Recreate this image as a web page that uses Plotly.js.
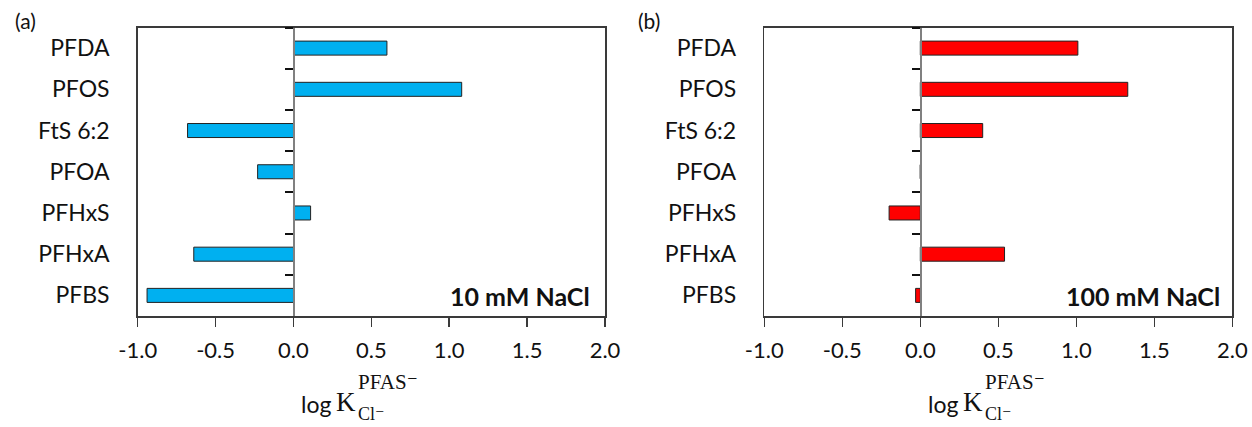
<!DOCTYPE html>
<html>
<head>
<meta charset="utf-8">
<script src="https://cdn.plot.ly/plotly-3.0.1.min.js"></script>
<style>html,body{margin:0;padding:0;background:#fff;}#chart{width:1252px;height:427px;}</style>
</head>
<body>
<div id="chart"></div>
<script>
// ---- data ----
const categories = ["PFDA", "PFOS", "FtS 6:2", "PFOA", "PFHxS", "PFHxA", "PFBS"];
const values10mM = [0.60, 1.08, -0.68, -0.23, 0.11, -0.64, -0.94];
const values100mM = [1.01, 1.33, 0.40, 0.00, -0.20, 0.54, -0.03];
const xTickVals = [-1.0, -0.5, 0.0, 0.5, 1.0, 1.5, 2.0];
const xTickText = ["-1.0", "-0.5", "0.0", "0.5", "1.0", "1.5", "2.0"];
const panelLabels = ["(a)", "(b)"];
const conditionLabels = ["10 mM NaCl", "100 mM NaCl"];

// ---- layout helpers ----
const W = 1252, H = 427;
const px = v => v / W;
const py = v => 1 - v / H;
const xRange = [-1, 2];
const domA = [px(137.7), px(605)];
const domB = [px(764.3), px(1232.3)];
const yDom = [py(316), py(27.5)];
const zeroPos = d => d[0] + (d[1] - d[0]) * (0 - xRange[0]) / (xRange[1] - xRange[0]);

const FONT = "Lato, 'Open Sans', sans-serif";
const SERIF = "'Liberation Serif', 'DejaVu Serif', serif";
const AX = "#3a3a3a";

const bar = (vals, color, xa, ya) => ({
  type: "bar", orientation: "h", y: categories, x: vals,
  xaxis: xa, yaxis: ya, width: 0.34,
  marker: {color: color, line: {color: "#222", width: 1}},
  hoverinfo: "x+y", showlegend: false
});
// invisible copies so the zero-position tick axes get drawn
const ghost = (vals, xa, ya) => ({
  type: "bar", orientation: "h", y: categories, x: vals, xaxis: xa, yaxis: ya,
  width: 0.34, marker: {color: "rgba(0,0,0,0)", line: {width: 0}},
  hoverinfo: "skip", showlegend: false
});

const data = [
  ghost(values10mM, "x", "y3"),
  ghost(values100mM, "x2", "y4"),
  bar(values10mM, "#00B0F0", "x", "y"),
  bar(values100mM, "#FF0000", "x2", "y2")
];

const xaxisBase = dom => ({
  domain: dom, range: xRange, tickmode: "array", tickvals: xTickVals, ticktext: xTickText,
  ticks: "outside", ticklen: 9, tickwidth: 1.5, tickcolor: AX,
  showline: true, linecolor: AX, linewidth: 1.5, mirror: true,
  showgrid: false, zeroline: false, fixedrange: true,
  tickfont: {family: FONT, size: 22, color: "#111"}, ticklabelstandoff: 5
});
const yaxisBase = (anchor) => ({
  domain: yDom, anchor: anchor, type: "category", categoryarray: categories, categoryorder: "array",
  autorange: "reversed", ticks: "", showline: true, linecolor: AX, linewidth: 1.5, mirror: true,
  showgrid: false, zeroline: false, fixedrange: true,
  tickfont: {family: FONT, size: 23, color: "#111"}, ticklabelstandoff: 22
});
const zeroAxis = (over, dom) => ({
  overlaying: over, anchor: "free", position: zeroPos(dom), side: "left",
  domain: yDom, type: "category", categoryarray: categories, categoryorder: "array",
  autorange: "reversed", tickson: "boundaries",
  ticks: "outside", ticklen: 8, tickwidth: 2, tickcolor: "#111",
  showticklabels: false, showline: true, linecolor: "#808080", linewidth: 1.5,
  showgrid: false, zeroline: false, fixedrange: true
});

const titleAnn = (offset) => ([
  {xref: "paper", yref: "paper", x: px(333 + offset), y: py(404), xanchor: "right", yanchor: "middle",
   text: "log", showarrow: false, font: {family: FONT, size: 23, color: "#111"}},
  {xref: "paper", yref: "paper", x: px(334 + offset), y: py(402), xanchor: "left", yanchor: "middle",
   text: "K", showarrow: false, font: {family: SERIF, size: 27, color: "#111"}},
  {xref: "paper", yref: "paper", x: px(356 + offset), y: py(382), xanchor: "left", yanchor: "middle",
   text: "PFAS⁻", showarrow: false, font: {family: SERIF, size: 21, color: "#111"}},
  {xref: "paper", yref: "paper", x: px(356 + offset), y: py(414), xanchor: "left", yanchor: "middle",
   text: "Cl⁻", showarrow: false, font: {family: SERIF, size: 18, color: "#111"}}
]);

const annotations = [
  {xref: "paper", yref: "paper", x: px(13), y: py(20), xanchor: "left", yanchor: "middle",
   text: panelLabels[0], showarrow: false, font: {family: FONT, size: 21, color: "#111"}},
  {xref: "paper", yref: "paper", x: px(636), y: py(20), xanchor: "left", yanchor: "middle",
   text: panelLabels[1], showarrow: false, font: {family: FONT, size: 21, color: "#111"}},
  {xref: "x domain", yref: "y domain", x: 0.972, y: 0.07, xanchor: "right", yanchor: "middle",
   text: "<b>" + conditionLabels[0] + "</b>", showarrow: false, font: {family: FONT, size: 25, color: "#111"}},
  {xref: "x2 domain", yref: "y2 domain", x: 0.979, y: 0.07, xanchor: "right", yanchor: "middle",
   text: "<b>" + conditionLabels[1] + "</b>", showarrow: false, font: {family: FONT, size: 25, color: "#111"}},
  ...titleAnn(0), ...titleAnn(626.6)
];

const layout = {
  width: W, height: H, margin: {l: 0, r: 0, t: 0, b: 0},
  paper_bgcolor: "#fff", plot_bgcolor: "#fff",
  xaxis: Object.assign(xaxisBase(domA), {anchor: "y"}),
  yaxis: yaxisBase("x"),
  xaxis2: Object.assign(xaxisBase(domB), {anchor: "y2"}),
  yaxis2: yaxisBase("x2"),
  yaxis3: zeroAxis("y", domA),
  yaxis4: zeroAxis("y2", domB),
  annotations: annotations,
  bargap: 0.66
};

Plotly.newPlot("chart", data, layout, {displayModeBar: false, staticPlot: true});
</script>
</body>
</html>
